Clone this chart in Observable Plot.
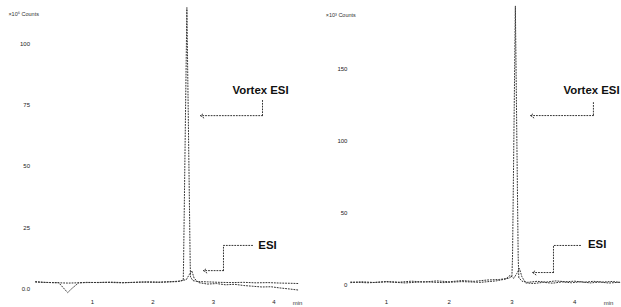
<!DOCTYPE html>
<html>
<head>
<meta charset="utf-8">
<script src="https://cdn.jsdelivr.net/npm/d3@7"></script>
<script src="https://cdn.jsdelivr.net/npm/@observablehq/plot@0.6"></script>
<style>
  html, body { margin: 0; padding: 0; background: #fff; }
  #wrap { display: flex; width: 621px; height: 307px; overflow: hidden; }
</style>
</head>
<body>
<div id="wrap"></div>
<script>
// ---------- Left panel data (time in min, signal in axis units) ----------
const leftVortexTime = [0.06,0.2,0.35,0.44,0.52,0.59,0.66,0.77,0.9,1.1,1.3,1.5,1.7,1.9,2.1,2.3,2.45,2.50,2.505,2.56,2.615,2.62,2.66,2.75,2.9,3.1,3.3,3.5,3.7,3.9,4.1,4.3,4.42];
const leftVortexSignal = [2.9,2.6,2.5,2.5,0.3,-1.6,0.1,2.4,2.6,2.5,2.7,2.5,2.6,2.8,2.7,2.9,3.1,3.5,10,115,10,4.8,3.3,2.9,2.8,2.6,2.5,2.6,2.4,2.5,2.3,2.2,2.1];
const leftEsiTime = [0.06,0.3,0.6,0.9,1.2,1.5,1.8,2.1,2.4,2.55,2.6,2.64,2.68,2.75,2.9,3.05,3.2,3.35,3.5,3.65,3.8,3.95,4.1,4.25,4.42];
const leftEsiSignal = [2.7,2.5,2.3,2.5,2.6,2.4,2.7,2.6,2.9,3.7,5.8,7.4,4.3,2.5,1.9,2.1,1.6,1.8,1.3,1.0,0.7,0.8,0.3,-0.1,-0.6];

// ---------- Right panel data ----------
const rightVortexTime = [0.43,0.6,0.8,1.0,1.2,1.4,1.6,1.8,2.0,2.2,2.4,2.6,2.8,2.95,3.0,3.01,3.055,3.10,3.11,3.16,3.25,3.4,3.55,3.7,3.85,4.0,4.15,4.3,4.45,4.6,4.72];
const rightVortexSignal = [2.0,2.6,2.1,2.8,2.3,3.0,2.4,3.2,2.6,3.4,2.9,3.8,4.2,5.0,6.5,20,194,20,5.5,3.0,2.2,2.9,2.4,3.2,2.6,3.0,2.3,2.9,2.4,2.8,2.2];
const rightEsiTime = [0.43,0.7,1.0,1.3,1.6,1.9,2.2,2.5,2.75,2.9,2.97,3.03,3.08,3.12,3.16,3.22,3.35,3.5,3.65,3.8,3.95,4.1,4.25,4.4,4.55,4.72];
const rightEsiSignal = [2.4,1.9,2.5,1.8,2.6,2.0,2.7,2.2,3.2,4.5,7.0,5.0,8.5,11.8,6.0,1.8,1.4,2.2,1.6,2.5,1.9,2.6,1.8,2.4,1.7,2.3];

// ---------- Axis ticks and labels ----------
const leftXTicks = [1, 2, 3, 4];
const leftYTicks = [0, 25, 50, 75, 100];
const rightXTicks = [1, 2, 3, 4];
const rightYTicks = [0, 50, 100, 150];
const leftUnit = "\u00d710\u2076 Counts";
const rightUnit = "\u00d710\u00b3 Counts";
const timeUnit = "min";

// ---------- Annotations (data coordinates) ----------
const seriesNames = ["Vortex ESI", "ESI"];
const leftLabelTime = [3.777, 3.893];
const leftLabelSignal = [81.1, 17.7];
const leftVortexCalloutTime = [3.810, 3.810, 2.785];
const leftVortexCalloutSignal = [77.0, 70.8, 70.8];
const leftEsiCalloutTime = [3.645, 3.165, 3.165, 2.835];
const leftEsiCalloutSignal = [17.7, 17.7, 7.4, 7.4];

const rightLabelTime = [4.27, 4.36];
const rightLabelSignal = [135.3, 28.5];
const rightVortexCalloutTime = [4.30, 4.30, 3.297];
const rightVortexCalloutSignal = [127.0, 118.0, 118.0];
const rightEsiCalloutTime = [4.094, 3.663, 3.663, 3.33];
const rightEsiCalloutSignal = [27.8, 27.8, 9.0, 9.0];

const zip = (xs, ys) => xs.map((x, i) => ({x, y: ys[i]}));
const ink = "#333";
const dash = "1 1.8";

function panel(cfg) {
  const callouts = [cfg.vCallT, cfg.eCallT].map((ts, k) => zip(ts, [cfg.vCallI, cfg.eCallI][k]));
  const marks = [
    Plot.line(zip(cfg.eT, cfg.eI), {x: "x", y: "y", stroke: ink, strokeWidth: 1, strokeDasharray: dash}),
    Plot.line(zip(cfg.vT, cfg.vI), {x: "x", y: "y", stroke: ink, strokeWidth: 1, strokeDasharray: dash}),
  ];
  for (const c of callouts) {
    marks.push(Plot.line(c.slice(0, -1), {x: "x", y: "y", stroke: ink, strokeWidth: 1, strokeDasharray: dash}));
    const a = c[c.length - 2], b = c[c.length - 1];
    marks.push(Plot.arrow([{x1: a.x, y1: a.y, x2: b.x, y2: b.y}], {x1: "x1", y1: "y1", x2: "x2", y2: "y2", stroke: ink, strokeWidth: 1, strokeDasharray: dash, headLength: 6, headAngle: 70}));
  }
  marks.push(Plot.text(seriesNames.map((n, i) => ({n, x: cfg.labT[i], y: cfg.labI[i]})), {
    x: "x", y: "y", text: "n", fill: "#111", fontSize: 11.4, fontWeight: "bold", textAnchor: "middle"
  }));
  marks.push(Plot.text([{x: cfg.unitT, y: cfg.unitI, t: cfg.unit}], {x: "x", y: "y", text: "t", fill: "#333", fontSize: 5.5, textAnchor: "start"}));
  marks.push(Plot.text([{x: cfg.minT, y: cfg.yDomain[0], t: timeUnit}], {x: "x", y: "y", text: "t", fill: "#333", fontSize: 6, textAnchor: "middle", dy: 6}));
  return Plot.plot({
    width: cfg.width, height: 307,
    marginTop: 0, marginBottom: 10, marginLeft: cfg.ml, marginRight: cfg.mr,
    style: {fontFamily: "Liberation Sans, Arial, sans-serif", fontSize: "6px", color: "#222", background: "#fff"},
    x: {domain: cfg.xDomain, ticks: cfg.xTicks, tickSize: 0, tickPadding: 2, label: null, tickFormat: d => String(d)},
    y: {domain: cfg.yDomain, ticks: cfg.yTicks, tickSize: 0, tickPadding: cfg.yPad, label: null, tickFormat: cfg.yFmt},
    marks
  });
}

const wrap = document.getElementById("wrap");
wrap.append(panel({
  width: 310, ml: 31.5, mr: 6.25, xDomain: [0, 4.5], yDomain: [-3.6, 117.9],
  xTicks: leftXTicks, yTicks: leftYTicks, yPad: 2, yFmt: d => d === 0 ? "0.0" : String(d),
  vT: leftVortexTime, vI: leftVortexSignal, eT: leftEsiTime, eI: leftEsiSignal,
  vCallT: leftVortexCalloutTime, vCallI: leftVortexCalloutSignal,
  eCallT: leftEsiCalloutTime, eCallI: leftEsiCalloutSignal,
  labT: leftLabelTime, labI: leftLabelSignal,
  unit: leftUnit, unitT: -0.39, unitI: 112.1, minT: 4.39
}));
wrap.append(panel({
  width: 311, ml: 38.4, mr: 0.5, xDomain: [0.4, 4.74], yDomain: [-8.33, 197.9],
  xTicks: rightXTicks, yTicks: rightYTicks, yPad: 1.5, yFmt: d => String(d),
  vT: rightVortexTime, vI: rightVortexSignal, eT: rightEsiTime, eI: rightEsiSignal,
  vCallT: rightVortexCalloutTime, vCallI: rightVortexCalloutSignal,
  eCallT: rightEsiCalloutTime, eCallI: rightEsiCalloutSignal,
  labT: rightLabelTime, labI: rightLabelSignal,
  unit: rightUnit, unitT: 0.03, unitI: 188, minT: 4.54
}));
</script>
</body>
</html>
